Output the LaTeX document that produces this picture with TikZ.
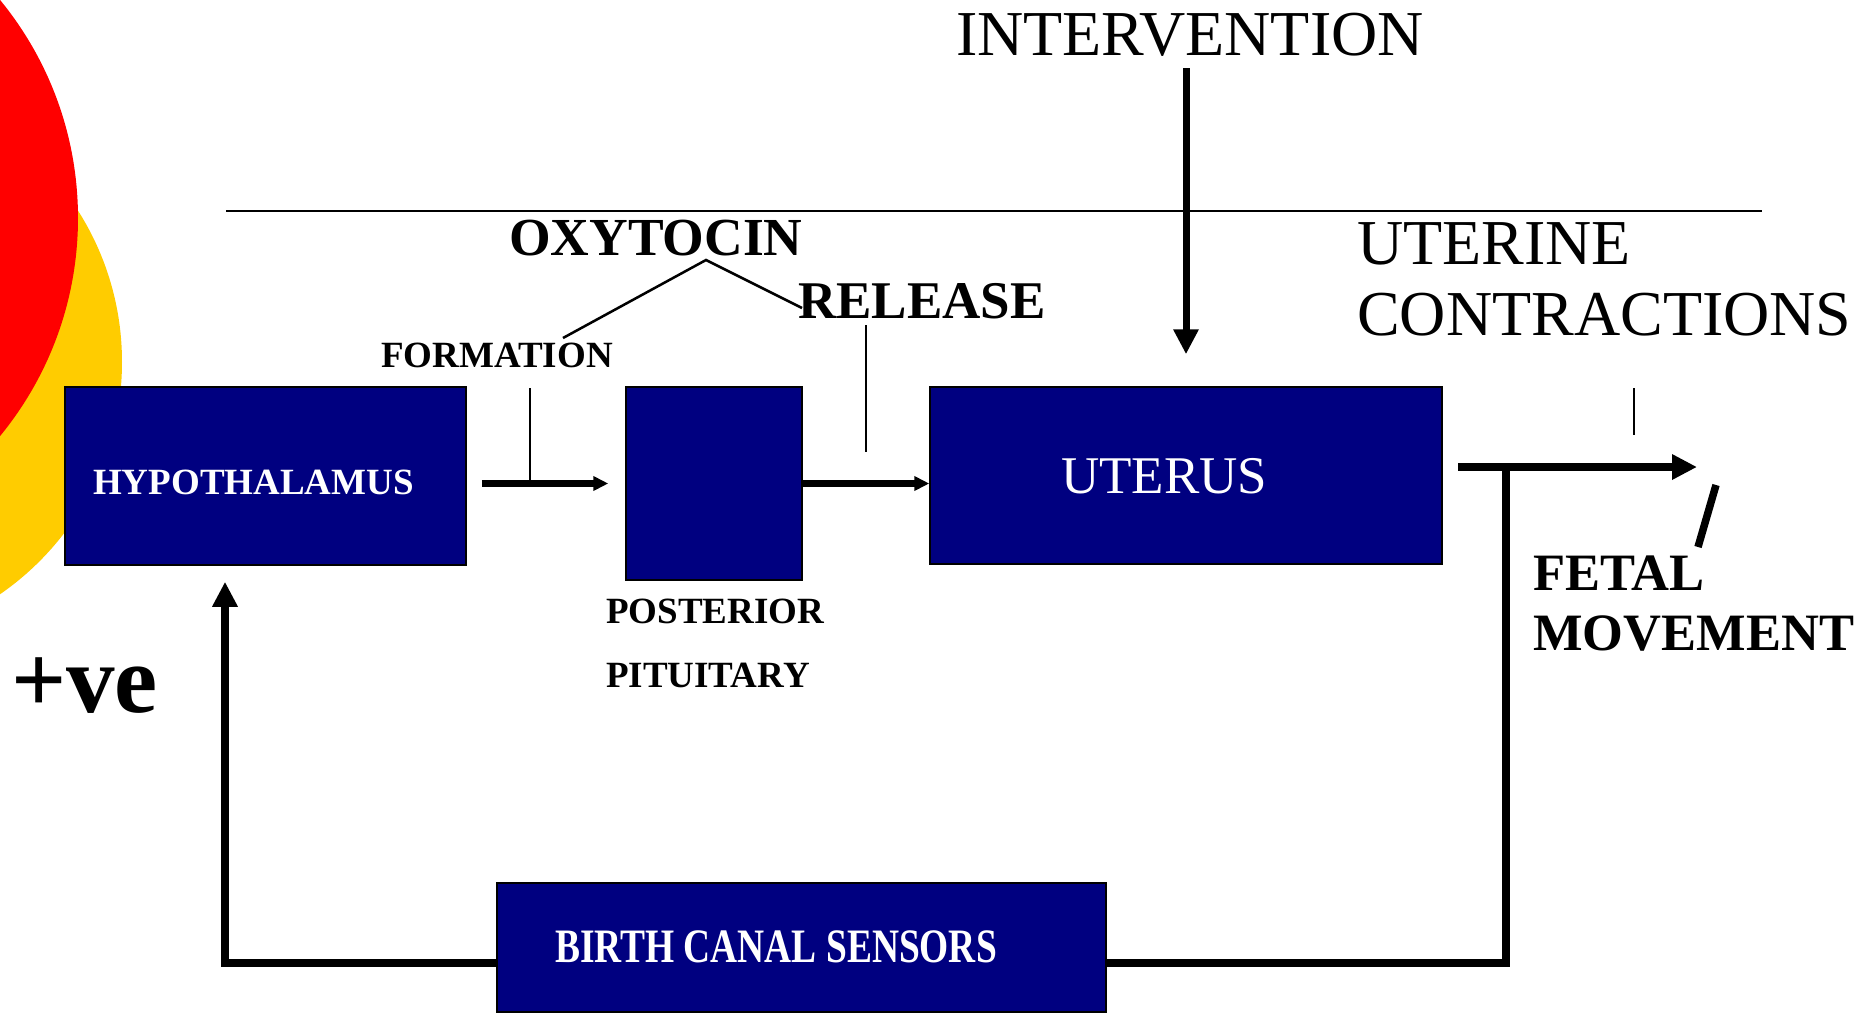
\documentclass[tikz,border=0pt]{standalone}
\usepackage{fontspec}
\usepackage{graphicx}
\setmainfont{Liberation Serif}
\usetikzlibrary{arrows.meta}
\definecolor{navy}{HTML}{000080}
\definecolor{sunred}{HTML}{FF0000}
\definecolor{sunyellow}{HTML}{FFCC00}
\begin{document}
\begin{tikzpicture}[x=1pt,y=-1pt,
  box/.style={draw=black, line width=1.5pt, fill=navy, inner sep=0pt},
  txt/.style={inner sep=0pt, anchor=base west},
  thinline/.style={line width=2pt},
  heavy/.style={line width=7.5pt},
  bigtip/.style={-{Triangle[length=25pt,width=24pt]}},
  smalltip/.style={-{Triangle[length=15pt,width=14pt]}},
]
\useasboundingbox (0,0) rectangle (1858,1012);
\begin{scope}
  \clip (0,0) rectangle (1858,1012);
  \fill[sunyellow] (-160,362) circle[radius=282];
  \fill[sunred] (-266,218) circle[radius=344];
\end{scope}

% boxes
\node[box, minimum width=401pt, minimum height=178pt] (hyp) at (265.5,476) {};
\node[box, minimum width=176pt, minimum height=193pt] (pp) at (714,483.5) {};
\node[box, minimum width=512pt, minimum height=177pt] (ut) at (1186,475.5) {};
\node[box, minimum width=609pt, minimum height=129pt] (bc) at (801.5,947.5) {};

% box texts
\node[txt, text=white, font=\bfseries\fontsize{37}{40}\selectfont] (thyp) at (93,494) {HYPOTHALAMUS};
\node[txt, text=white, font=\fontsize{53}{60}\selectfont] (tut) at (1061,493) {UTERUS};
\node[txt, anchor=base, text=white, font=\bfseries\fontsize{48}{50}\selectfont] (tbc) at (776,962) {\scalebox{0.78}[1]{BIRTH CANAL SENSORS}};

% labels
\node[txt, anchor=base, font=\fontsize{64}{70}\selectfont] (int) at (1190,55) {INTERVENTION};
\node[txt, font=\fontsize{64}{70}\selectfont] (uc1) at (1357,264) {UTERINE};
\node[txt, font=\fontsize{64}{70}\selectfont] (uc2) at (1357,335) {CONTRACTIONS};
\node[txt, font=\bfseries\fontsize{53.5}{60}\selectfont] (oxy) at (509,255) {OXYTOCIN};
\node[txt, font=\bfseries\fontsize{53}{60}\selectfont] (rel) at (798,318) {RELEASE};
\node[txt, font=\bfseries\fontsize{37}{40}\selectfont] (form) at (381,367) {FORMATION};
\node[txt, font=\bfseries\fontsize{37}{40}\selectfont] (post) at (606,623) {POSTERIOR};
\node[txt, font=\bfseries\fontsize{37}{40}\selectfont] (pit) at (606,687) {PITUITARY};
\node[txt, font=\bfseries\fontsize{52.5}{60}\selectfont] (fet) at (1533,590) {FETAL};
\node[txt, font=\bfseries\fontsize{52.5}{60}\selectfont] (mov) at (1533,650) {MOVEMENT};
\node[txt, font=\bfseries\fontsize{97}{100}\selectfont] (pve) at (11,712) {+ve};

% coordinates
\coordinate (tl1) at (226,211);
\coordinate (tl2) at (1762,211);
\coordinate (ox1) at (563,338);
\coordinate (oxa) at (706,260);
\coordinate (ox2) at (802,308);
\coordinate (ft) at (530,388);
\coordinate (rt) at (866,325);
\coordinate (iv) at (1186,68);
\coordinate (uo1) at (1458,467);
\coordinate (uo2) at (1697,467);
\coordinate (fb) at (1506,467);
\coordinate (fbc) at (1506,963);
\coordinate (lc) at (225,963);
\coordinate (s1) at (1716,485);
\coordinate (s2) at (1698,547);
\coordinate (uct) at (1634,388);

% lines
\draw[line width=2.5pt] (tl1) -- (tl2);
\draw[line width=2.5pt] (ox1) -- (oxa) -- (ox2);
\draw[thinline] (ft) -- (ft |- pp.west);
\draw[thinline] (rt) -- ++(0,127);
\draw[thinline] (uct) -- ++(0,47);

\draw[heavy, smalltip, shorten <=15pt, shorten >=17pt] (hyp.east |- pp.west) -- (pp.west);
\draw[heavy, smalltip] (pp.east) -- (pp.east -| ut.west);
\draw[line width=7pt, bigtip, shorten >=32pt] (iv) -- (iv |- ut.north);
\draw[heavy, bigtip] (uo1) -- (uo2);
\draw[heavy] (fb) -- (fbc) -- (fbc -| bc.east);
\draw[heavy, bigtip, shorten >=16pt] (lc -| bc.west) -- (lc) -- (lc |- hyp.south);
\draw[heavy] (s1) -- (s2);
\end{tikzpicture}
\end{document}
